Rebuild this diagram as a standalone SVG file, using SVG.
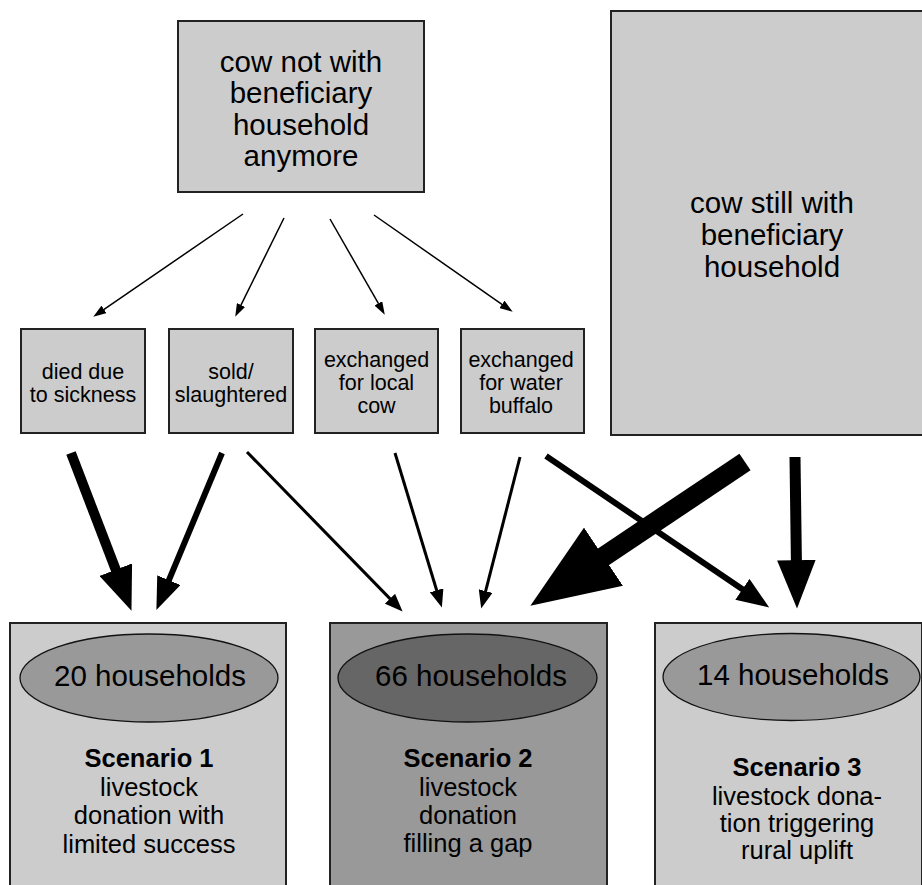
<svg xmlns="http://www.w3.org/2000/svg" width="922" height="885" viewBox="0 0 922 885">
<style>
.box{fill:#cccccc;stroke:#222;stroke-width:2}
.mid{fill:#999999;stroke:#222;stroke-width:2}
.ell{fill:#999999;stroke:#111;stroke-width:1.3}
.elld{fill:#666666;stroke:#111;stroke-width:1.3}
text{font-family:"Liberation Sans",Arial,sans-serif;fill:#000;text-anchor:middle}
.t29{font-size:29.5px}
.t21{font-size:21.5px}
.t26{font-size:25.5px}
.b{font-weight:bold}
.c{stroke:#000;fill:none}
</style>
<defs>
<marker id="big" viewBox="0 0 10 8" preserveAspectRatio="none" markerWidth="4.4" markerHeight="3.5" refX="0.3" refY="4" orient="auto"><path d="M0,0 L10,4 L0,8 z" fill="#000"/></marker>
<marker id="med" viewBox="0 0 10 8" preserveAspectRatio="none" markerWidth="5.4" markerHeight="4.2" refX="0.3" refY="4" orient="auto"><path d="M0,0 L10,4 L0,8 z" fill="#000"/></marker>
<marker id="thin" viewBox="0 0 10 8" preserveAspectRatio="none" markerWidth="6" markerHeight="4.7" refX="0.3" refY="4" orient="auto"><path d="M0,0 L10,4 L0,8 z" fill="#000"/></marker>
<marker id="fine" viewBox="0 0 10 8" preserveAspectRatio="none" markerWidth="8.7" markerHeight="6" refX="0.3" refY="4" orient="auto"><path d="M0,0 L10,4 L0,8 z" fill="#000"/></marker>
</defs>
<rect width="922" height="885" fill="#fff"/>

<g id="node-not-with">
<rect class="box" x="178" y="21" width="246" height="171"/>
<text class="t29" x="301" y="71.5">cow not with</text>
<text class="t29" x="301" y="103">beneficiary</text>
<text class="t29" x="301" y="134.5">household</text>
<text class="t29" x="301" y="166">anymore</text>
</g>

<g id="node-still-with">
<rect class="box" x="611" y="11" width="312" height="424"/>
<text class="t29" x="772" y="213">cow still with</text>
<text class="t29" x="772" y="244.5">beneficiary</text>
<text class="t29" x="772" y="276.5">household</text>
</g>

<g id="node-died">
<rect class="box" x="21" y="329" width="124" height="104"/>
<text class="t21" x="83" y="378.5">died due</text>
<text class="t21" x="83" y="401.5">to sickness</text>
</g>

<g id="node-sold">
<rect class="box" x="169" y="329" width="124" height="104"/>
<text class="t21" x="231" y="378.5">sold/</text>
<text class="t21" x="231" y="401.5">slaughtered</text>
</g>

<g id="node-local">
<rect class="box" x="315" y="329" width="123" height="104"/>
<text class="t21" x="376.5" y="367">exchanged</text>
<text class="t21" x="376.5" y="390">for local</text>
<text class="t21" x="376.5" y="413">cow</text>
</g>

<g id="node-buffalo">
<rect class="box" x="461" y="329" width="123" height="104"/>
<text class="t21" x="521" y="367">exchanged</text>
<text class="t21" x="521" y="390">for water</text>
<text class="t21" x="521" y="413">buffalo</text>
</g>

<g id="node-scenario1">
<rect class="box" x="10" y="623" width="276" height="270"/>
<ellipse class="ell" cx="149" cy="678" rx="129" ry="44"/>
<text class="t29" x="150" y="686">20 households</text>
<text class="t26 b" x="149" y="767">Scenario 1</text>
<text class="t26" x="149" y="795.5">livestock</text>
<text class="t26" x="149" y="824">donation with</text>
<text class="t26" x="149" y="852.5">limited success</text>
</g>

<g id="node-scenario2">
<rect class="mid" x="330" y="623" width="277" height="270"/>
<ellipse class="elld" cx="467.5" cy="678" rx="129.5" ry="44"/>
<text class="t29" x="471" y="686">66 households</text>
<text class="t26 b" x="468" y="767">Scenario 2</text>
<text class="t26" x="468" y="795.5">livestock</text>
<text class="t26" x="468" y="824">donation</text>
<text class="t26" x="468" y="851.5">filling a gap</text>
</g>

<g id="node-scenario3">
<rect class="box" x="655" y="623" width="267" height="270"/>
<ellipse class="ell" cx="791.5" cy="677" rx="128.5" ry="43.5"/>
<text class="t29" x="793" y="685">14 households</text>
<text class="t26 b" x="797" y="776">Scenario 3</text>
<text class="t26" x="797" y="804.5">livestock dona-</text>
<text class="t26" x="797" y="832">tion triggering</text>
<text class="t26" x="797" y="859">rural uplift</text>
</g>

<g id="connectors">
<line class="c" stroke-width="1.5" x1="243" y1="214" x2="103.7" y2="309.6" marker-end="url(#fine)"/>
<line class="c" stroke-width="1.5" x1="284" y1="218" x2="240.8" y2="305.4" marker-end="url(#fine)"/>
<line class="c" stroke-width="1.5" x1="330" y1="219" x2="378.5" y2="303.7" marker-end="url(#fine)"/>
<line class="c" stroke-width="1.5" x1="374" y1="215" x2="502.3" y2="304.6" marker-end="url(#fine)"/>

<line class="c" stroke-width="10" x1="71" y1="453" x2="116.2" y2="570.9" marker-end="url(#big)"/>
<line class="c" stroke-width="6" x1="222" y1="453" x2="168.5" y2="581.1" marker-end="url(#med)"/>
<line class="c" stroke-width="3" x1="247" y1="452" x2="390.4" y2="599.1" marker-end="url(#thin)"/>
<line class="c" stroke-width="3" x1="395" y1="453" x2="436.8" y2="590.8" marker-end="url(#thin)"/>
<line class="c" stroke-width="3" x1="520" y1="457" x2="485.5" y2="591.6" marker-end="url(#thin)"/>
<line class="c" stroke-width="6" x1="546" y1="456" x2="743.2" y2="589.8" marker-end="url(#med)"/>
<line class="c" stroke-width="20" x1="745" y1="462" x2="601.3" y2="558.2" marker-end="url(#big)"/>
<line class="c" stroke-width="11" x1="795" y1="457" x2="796.4" y2="561.6" marker-end="url(#big)"/>
</g>
</svg>
